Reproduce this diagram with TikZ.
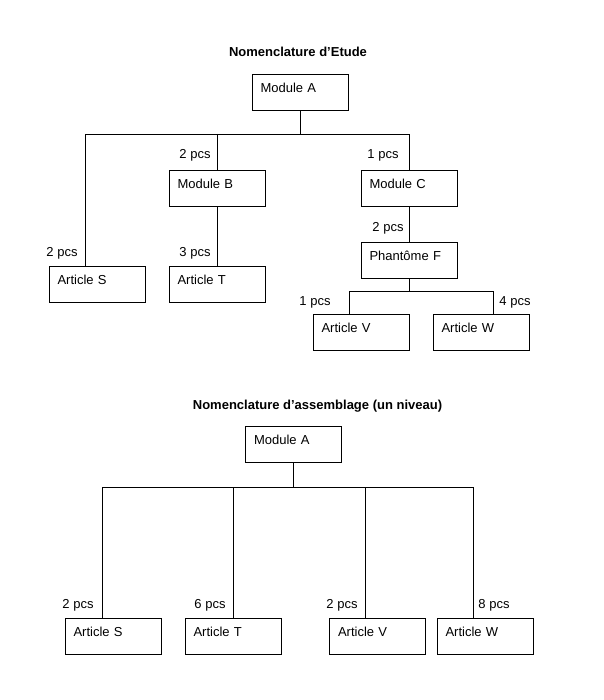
\documentclass[tikz,border=0pt]{standalone}
\usepackage{fontspec}
\setmainfont{Liberation Sans}

\begin{document}
\begin{tikzpicture}[x=1pt,y=-1pt,line width=0.9pt,
  part/.style={draw,rectangle,minimum width=96pt,minimum height=36pt,text width=79pt,align=left,
    inner xsep=8.5pt,inner ysep=0pt,text height=18.5pt,text depth=17.5pt,font=\fontsize{13}{15}\selectfont},
  qty/.style={inner sep=0pt,font=\fontsize{13}{15}\selectfont},
  title/.style={inner sep=0pt,font=\bfseries\fontsize{13}{15}\selectfont}]
\useasboundingbox (0,0) rectangle (603,700);
% study bill of materials
\node[title,anchor=base] (t1) at (298,57) {Nomenclature d’Etude};
\node[part] (a1) at (300,92) {Module A};
\node[part] (b1) at (217,188) {Module B};
\node[part] (c1) at (409,188) {Module C};
\node[part] (f1) at (409,260) {Phantôme F};
\node[part] (s1) at (97,284) {Article S};
\node[part] (tt1) at (217,284) {Article T};
\node[part] (v1) at (361,332) {Article V};
\node[part] (w1) at (481,332) {Article W};
\coordinate (js1) at (85,134);
\coordinate (jb1) at (217,134);
\coordinate (jc1) at (409,134);
\coordinate (jv1) at (349,291);
\coordinate (jw1) at (493,291);
\draw (a1.south) |- (js1) -- (js1 |- s1.north);
\draw (a1.south) |- (jc1) -- (c1.north);
\draw (jb1) -- (b1.north);
\draw (b1.south) -- (tt1.north);
\draw (c1.south) -- (f1.north);
\draw (f1.south) |- (jv1) -- (jv1 |- v1.north);
\draw (f1.south) |- (jw1) -- (jw1 |- w1.north);
% quantities
\node[qty,anchor=base east] (qs1) at (78,256) {2 pcs};
\node[qty,anchor=base east] (qb1) at (211,159) {2 pcs};
\node[qty,anchor=base east] (qc1) at (399,159) {1 pcs};
\node[qty,anchor=base east] (qf1) at (404,232) {2 pcs};
\node[qty,anchor=base east] (qt1) at (211,256) {3 pcs};
\node[qty,anchor=base east] (qv1) at (331,305) {1 pcs};
\node[qty,anchor=base west] (qw1) at (499,305) {4 pcs};

% single level assembly
\node[title,anchor=base] (t2) at (317.5,409) {Nomenclature d’assemblage (un niveau)};
\node[part] (a2) at (293.5,444) {Module A};
\node[part] (s2) at (113,636) {Article S};
\node[part] (tt2) at (233,636) {Article T};
\node[part] (v2) at (377.5,636) {Article V};
\node[part] (w2) at (485,636) {Article W};
\coordinate (js2) at (102,487);
\coordinate (jv2) at (365,487);
\coordinate (jw2) at (473,487);
\draw (a2.south) |- (js2) -- (js2 |- s2.north);
\draw (a2.south) |- (jw2) -- (jw2 |- w2.north);
\draw (tt2.north) -- (tt2.north |- js2);
\draw (jv2) -- (jv2 |- v2.north);
\node[qty,anchor=base east] (qs2) at (94,608) {2 pcs};
\node[qty,anchor=base east] (qt2) at (226,608) {6 pcs};
\node[qty,anchor=base east] (qv2) at (358,608) {2 pcs};
\node[qty,anchor=base west] (qw2) at (478,608) {8 pcs};
\end{tikzpicture}
\end{document}
